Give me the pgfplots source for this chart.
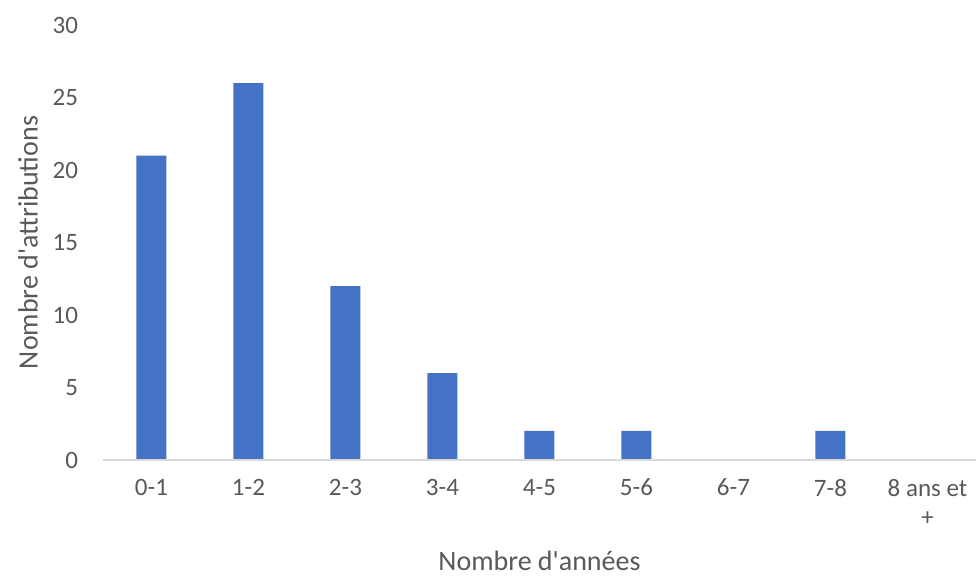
\documentclass[border=0pt]{standalone}
\usepackage{pgfplots}
\pgfplotsset{compat=1.18}
\usepackage{fontspec}
\setmainfont{Carlito}[Ligatures=TeXOff]
\definecolor{barblue}{HTML}{4472C4}
\definecolor{txtgray}{HTML}{595959}
\definecolor{axgray}{HTML}{D9D9D9}
\begin{document}
\begin{tikzpicture}
\begin{axis}[
  at={(0,0)}, anchor=south west,
  scale only axis,
  width=436.5pt, height=217.5pt,
  xmin=-0.5, xmax=8.5,
  ymin=0, ymax=30,
  ytick={0,5,...,30},
  xtick={0,...,8},
  xticklabels={0-1,1-2,2-3,3-4,4-5,5-6,6-7,7-8,{8 ans et\\+}},
  major tick length=0pt,
  axis on top,
  axis x line*=bottom, axis y line*=left,
  y axis line style={draw=none},
  x axis line style={draw=axgray, line width=1pt},
  /pgf/number format/assume math mode=true,
  ticklabel style={font=\fontsize{12.5}{14.5}\selectfont, text=txtgray},
  xticklabel style={align=center, yshift=-6pt},
  yticklabel style={xshift=-9pt},
  xlabel={Nombre d'années},
  ylabel={Nombre d'attributions},
  every axis x label/.style={at={([yshift=-50.5pt]axis description cs:0.5,0)}, anchor=center, font=\fontsize{14}{17}\selectfont, text=txtgray},
  every axis y label/.style={at={([xshift=-37.5pt]axis description cs:0,0.5)}, anchor=center, rotate=90, font=\fontsize{14}{17}\selectfont, text=txtgray},
  ybar, bar width=15pt, bar shift=0pt,
]
\addplot[fill=barblue, draw=none] coordinates {(0,21) (1,26) (2,12) (3,6) (4,2) (5,2) (6,0) (7,2) (8,0)};
\end{axis}
\pgfresetboundingbox
\path[use as bounding box] (-51.5pt,-59pt) rectangle (436.5pt,230pt);
\end{tikzpicture}
\end{document}
